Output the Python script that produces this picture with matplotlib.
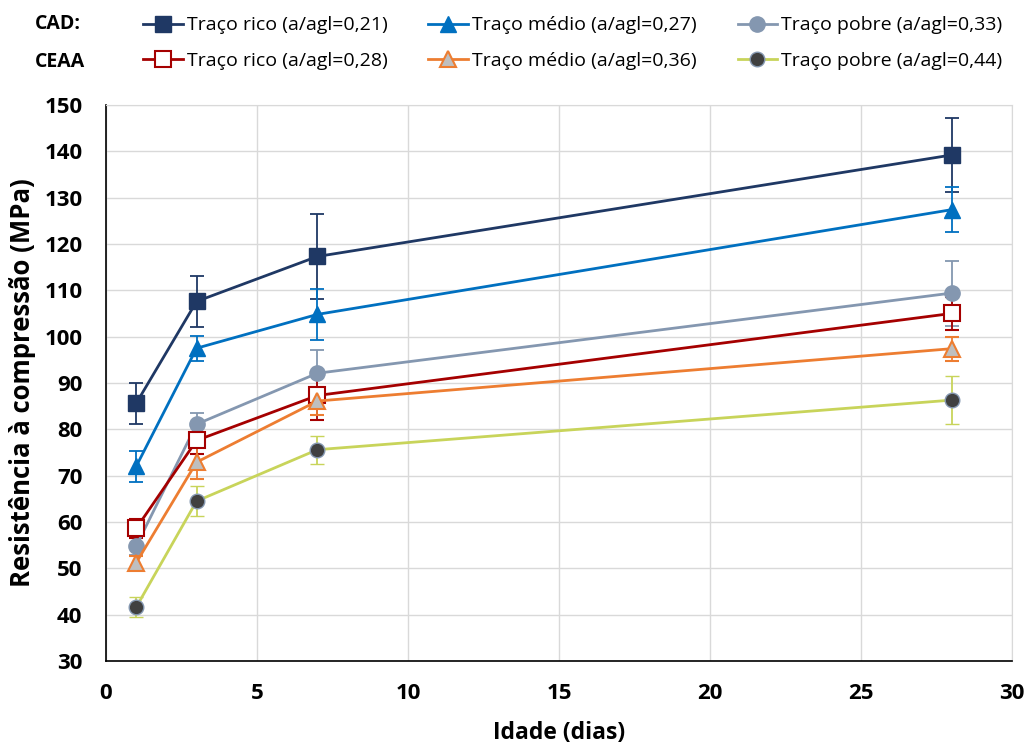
import matplotlib
matplotlib.use("Agg")
import matplotlib.pyplot as plt
from matplotlib.lines import Line2D

plt.rcParams["font.family"] = ["Open Sans", "DejaVu Sans"]

# idade de ensaio (dias)
idade = [1, 3, 7, 28]

# resistência média (MPa) e desvio padrão
cad_rico = [85.6, 107.6, 117.3, 139.2]
cad_rico_dp = [4.4, 5.5, 9.2, 7.9]
cad_medio = [72.0, 97.5, 104.8, 127.4]
cad_medio_dp = [3.4, 2.7, 5.5, 4.9]
cad_pobre = [54.8, 81.1, 92.1, 109.4]
cad_pobre_dp = [2.0, 2.5, 5.0, 7.0]
ceaa_rico = [58.6, 77.6, 87.3, 105.0]
ceaa_rico_dp = [2.0, 3.0, 5.2, 3.6]
ceaa_medio = [51.2, 72.9, 86.1, 97.4]
ceaa_medio_dp = [1.5, 3.6, 3.0, 2.6]
ceaa_pobre = [41.6, 64.5, 75.6, 86.3]
ceaa_pobre_dp = [2.2, 3.3, 3.0, 5.2]

labels_cad = ["Traço rico (a/agl=0,21)", "Traço médio (a/agl=0,27)", "Traço pobre (a/agl=0,33)"]
labels_ceaa = ["Traço rico (a/agl=0,28)", "Traço médio (a/agl=0,36)", "Traço pobre (a/agl=0,44)"]

NAVY = "#1F3864"
BLUE = "#0070C0"
SLATE = "#8497B0"
DRED = "#A50000"
ORANGE = "#ED7D31"
OLIVE = "#C8D45A"
GRID = "#D9D9D9"

series = [
    (cad_rico, cad_rico_dp, labels_cad[0], NAVY, dict(marker="s", ms=11, mfc=NAVY, mec=NAVY)),
    (cad_medio, cad_medio_dp, labels_cad[1], BLUE, dict(marker="^", ms=12, mfc=BLUE, mec=BLUE)),
    (cad_pobre, cad_pobre_dp, labels_cad[2], SLATE, dict(marker="o", ms=11, mfc=SLATE, mec=SLATE)),
    (ceaa_rico, ceaa_rico_dp, labels_ceaa[0], DRED, dict(marker="s", ms=11, mfc="white", mec=DRED, mew=1.5)),
    (ceaa_medio, ceaa_medio_dp, labels_ceaa[1], ORANGE, dict(marker="^", ms=12, mfc="#BFBFBF", mec=ORANGE, mew=1.5)),
    (ceaa_pobre, ceaa_pobre_dp, labels_ceaa[2], OLIVE, dict(marker="o", ms=10.5, mfc="#404040", mec=SLATE, mew=1.0)),
]

fig = plt.figure(figsize=(10.3, 7.45), dpi=100)
ax = fig.add_axes([0.1029, 0.1128, 0.8796, 0.7463])

handles = []
for vals, dp, lab, col, mk in series:
    ax.errorbar(idade, vals, yerr=dp, color=col, lw=2.0, elinewidth=1.3,
                capsize=5, capthick=1.3, zorder=3, **mk)
    handles.append(Line2D([], [], color=col, lw=2.0, label=lab, **mk))

ax.set_xlim(0, 30)
ax.set_ylim(30, 150)
ax.set_xticks(range(0, 31, 5))
ax.set_yticks(range(30, 151, 10))
ax.grid(True, color=GRID, lw=1.0, zorder=0)
ax.set_axisbelow(True)
ax.tick_params(length=0, labelsize=16)
ax.tick_params(axis="y", pad=17)
ax.tick_params(axis="x", pad=16)
for t in ax.get_xticklabels() + ax.get_yticklabels():
    t.set_fontweight("bold")
for sp in ["top", "right"]:
    ax.spines[sp].set_color(GRID)
ax.spines["left"].set_color("black")
ax.spines["bottom"].set_color("black")
ax.spines["left"].set_linewidth(1.2)
ax.spines["bottom"].set_linewidth(1.2)

ax.set_xlabel("Idade (dias)", fontsize=16.5, fontweight="bold", va="center")
ax.set_ylabel("Resistência à compressão (MPa)", fontsize=18.5, fontweight="bold", va="center")
ax.xaxis.set_label_coords(0.5, -0.1295)
ax.yaxis.set_label_coords(-0.0916, 0.5)

# legenda em duas linhas: CAD em cima, CEAA embaixo
order = [handles[0], handles[3], handles[1], handles[4], handles[2], handles[5]]
fig.legend(handles=order, ncol=3, loc="upper left", bbox_to_anchor=(0.1388, 0.978),
           frameon=False, fontsize=14, handlelength=2.05, handletextpad=0.2,
           columnspacing=2.1, labelspacing=0.9, borderpad=0, borderaxespad=0)
fig.text(0.034, 0.968, "CAD:", fontsize=14, fontweight="bold", va="center")
fig.text(0.034, 0.917, "CEAA", fontsize=14, fontweight="bold", va="center")

fig.savefig("out.png", dpi=100)
